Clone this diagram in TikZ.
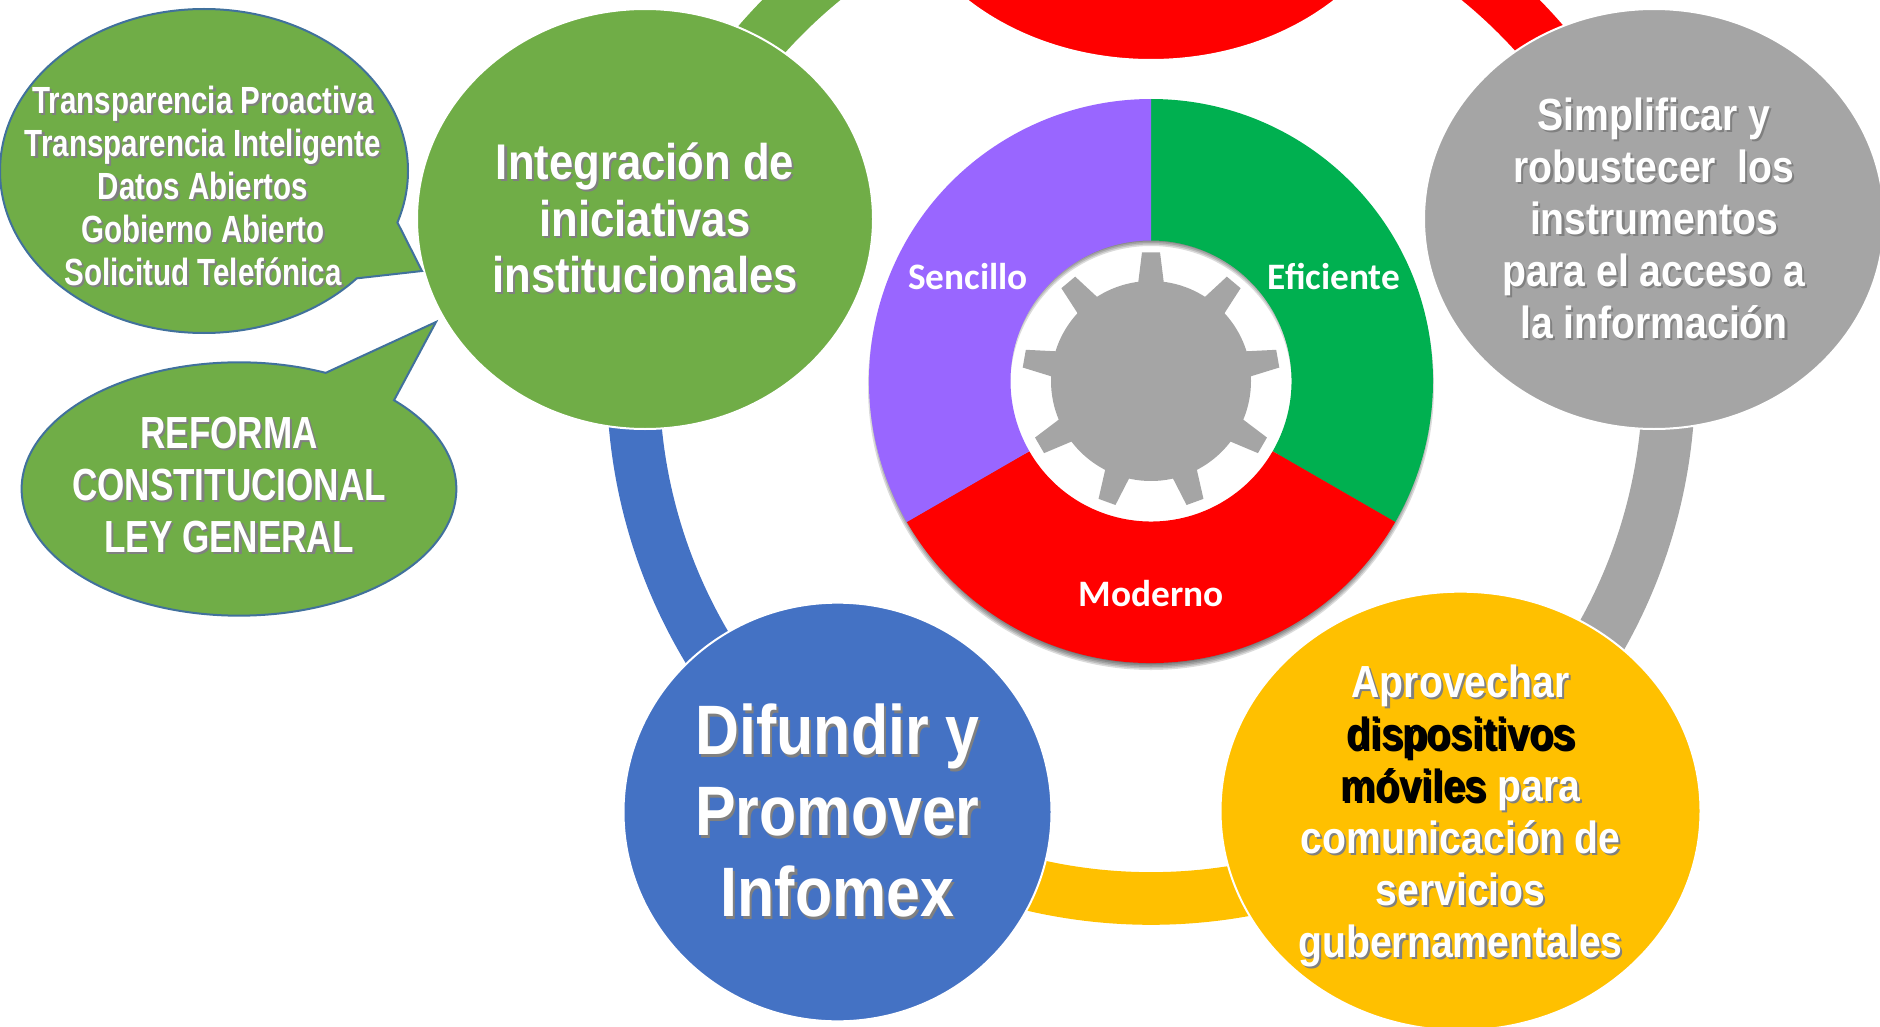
\documentclass[tikz,border=0pt]{standalone}
\usepackage{fontspec}
\newfontfamily\narrowfont[FakeStretch=0.87]{Liberation Sans}
\newfontfamily\calloutfont[FakeStretch=0.78]{Liberation Sans}
\newfontfamily\ringfont{Carlito}
\usetikzlibrary{shapes.geometric, shapes.callouts}
\definecolor{leafGreen}{HTML}{70AD47}
\definecolor{royalBlue}{HTML}{4472C4}
\definecolor{amber}{HTML}{FFC000}
\definecolor{midGray}{HTML}{A5A5A5}
\definecolor{edgeBlue}{HTML}{41719C}
\definecolor{segGreen}{HTML}{00B050}
\definecolor{segPurple}{HTML}{9966FF}
\newcommand{\shadowed}[1]{\leavevmode\rlap{\kern1.6pt\raisebox{-1.6pt}{\color{black!50}#1}}#1}
\tikzstyle{goal} = [ellipse, draw=white, line width=1.5pt, inner sep=-6pt, text=white, align=center]
\tikzstyle{bubble} = [ellipse callout, draw=edgeBlue, line width=1.5pt, fill=leafGreen, inner sep=0pt]
\tikzstyle{bubbleText} = [text=white, align=center, inner sep=0pt]
\tikzstyle{band} = [line width=39.5pt, bend left=36, looseness=.94]
\tikzstyle{segLabel} = [text=white, font=\ringfont\bfseries\fontsize{28}{33}\selectfont]

\begin{document}
\begin{tikzpicture}[x=.75pt, y=.75pt]
\useasboundingbox (0,-1027) rectangle (1880,0);
% Define ring coordinates
\coordinate (hub) at (1151,-381);
\coordinate (ringInte) at ([shift={(162:518)}]hub);
\coordinate (ringTop) at ([shift={(90:518)}]hub);
\coordinate (ringSimp) at ([shift={(18:518)}]hub);
\coordinate (ringApro) at ([shift={(-54:518)}]hub);
\coordinate (ringDifu) at ([shift={(-126:518)}]hub);
% Outer ring
\draw [band, leafGreen] (ringInte) to (ringTop);
\draw [band, red] (ringTop) to (ringSimp);
\draw [band, midGray] (ringSimp) to (ringApro);
\draw [band, amber] (ringApro) to (ringDifu);
\draw [band, royalBlue] (ringDifu) to (ringInte);
% Centre wheel
\begin{scope}[shift={(hub)}]
\foreach \b in {0,1.5,3,4.5,6}
  \fill [black, opacity=.14, even odd rule, shift={(0,-6)}] (0,0) circle [radius=277+\b] (0,0) circle [radius=147-\b];
\foreach \col/\from/\to in {segGreen/90/-30, red/-30/-150, segPurple/-150/-270}
  \fill [\col] (\from:282) arc [start angle=\from, end angle=\to, radius=282] -- (\to:140.5) arc [start angle=\to, end angle=\from, radius=140.5] -- cycle;
\foreach \a in {90,50,10,-30,-70,-110,-150,170,130}
  \fill [midGray] (\a+7.6:98) -- (\a+4:129) -- (\a-4:129) -- (\a-7.6:98) -- cycle;
\end{scope}
\node (gearBody) [circle, fill=midGray, minimum size=150pt, inner sep=0pt] at (hub) {};
\node (sencillo) [segLabel] at (968,-277) {Sencillo};
\node (eficiente) [segLabel] at (1334,-277) {Eficiente};
\node (moderno) [segLabel] at (1151,-594) {Moderno};
% Define nodes
\node (topGoal) [goal, fill=red, minimum width=393pt, minimum height=312pt] at (1151,148) {};
\node (integracion) [goal, fill=leafGreen, minimum width=342pt, minimum height=315pt,
  font=\narrowfont\bfseries\fontsize{37.6}{42.3}\selectfont] at (645,-219)
  {\shadowed{Integración de}\\\shadowed{iniciativas}\\\shadowed{institucionales}};
\node (simplificar) [goal, fill=midGray, minimum width=345pt, minimum height=315pt,
  font=\narrowfont\bfseries\fontsize{33.75}{39}\selectfont] at (1654,-219)
  {\shadowed{Simplificar y}\\\shadowed{robustecer\ \ los}\\\shadowed{instrumentos}\\\shadowed{para el acceso a}\\\shadowed{la información}};
\node (aprovechar) [goal, fill=amber, minimum width=360pt, minimum height=329pt,
  font=\narrowfont\bfseries\fontsize{33.75}{39}\selectfont] at (1460.5,-811)
  {\rule{0pt}{33pt}\shadowed{Aprovechar}\\\shadowed{\textcolor{black}{dispositivos}}\\\shadowed{\textcolor{black}{móviles} para}\\\shadowed{comunicación de}\\\shadowed{servicios}\\\shadowed{gubernamentales}};
\node (difundir) [goal, fill=royalBlue, minimum width=321pt, minimum height=314pt,
  font=\narrowfont\bfseries\fontsize{52.5}{60.75}\selectfont] at (837.5,-812)
  {\shadowed{Difundir y}\\\shadowed{Promover}\\\shadowed{Infomex}};
% Callouts
\node (bubbleTop) [bubble, minimum width=306pt, minimum height=243pt, callout absolute pointer={(422,-271)}, callout pointer arc=23] at (204,-171) {};
\node (bubbleBottom) [bubble, minimum width=326pt, minimum height=190pt, callout absolute pointer={(436,-322)}, callout pointer arc=22] at (239,-489) {};
\node (bubbleTopText) [bubbleText, font=\calloutfont\bfseries\fontsize{28.4}{32.3}\selectfont] at (203,-187)
  {\shadowed{Transparencia Proactiva}\\\shadowed{Transparencia Inteligente}\\\shadowed{Datos Abiertos}\\\shadowed{Gobierno Abierto}\\\shadowed{Solicitud Telefónica}};
\node (bubbleBottomText) [bubbleText, font=\calloutfont\bfseries\fontsize{33.75}{38.7}\selectfont] at (229,-486)
  {\shadowed{REFORMA}\\\shadowed{CONSTITUCIONAL}\\\shadowed{LEY GENERAL}};
\end{tikzpicture}
\end{document}
